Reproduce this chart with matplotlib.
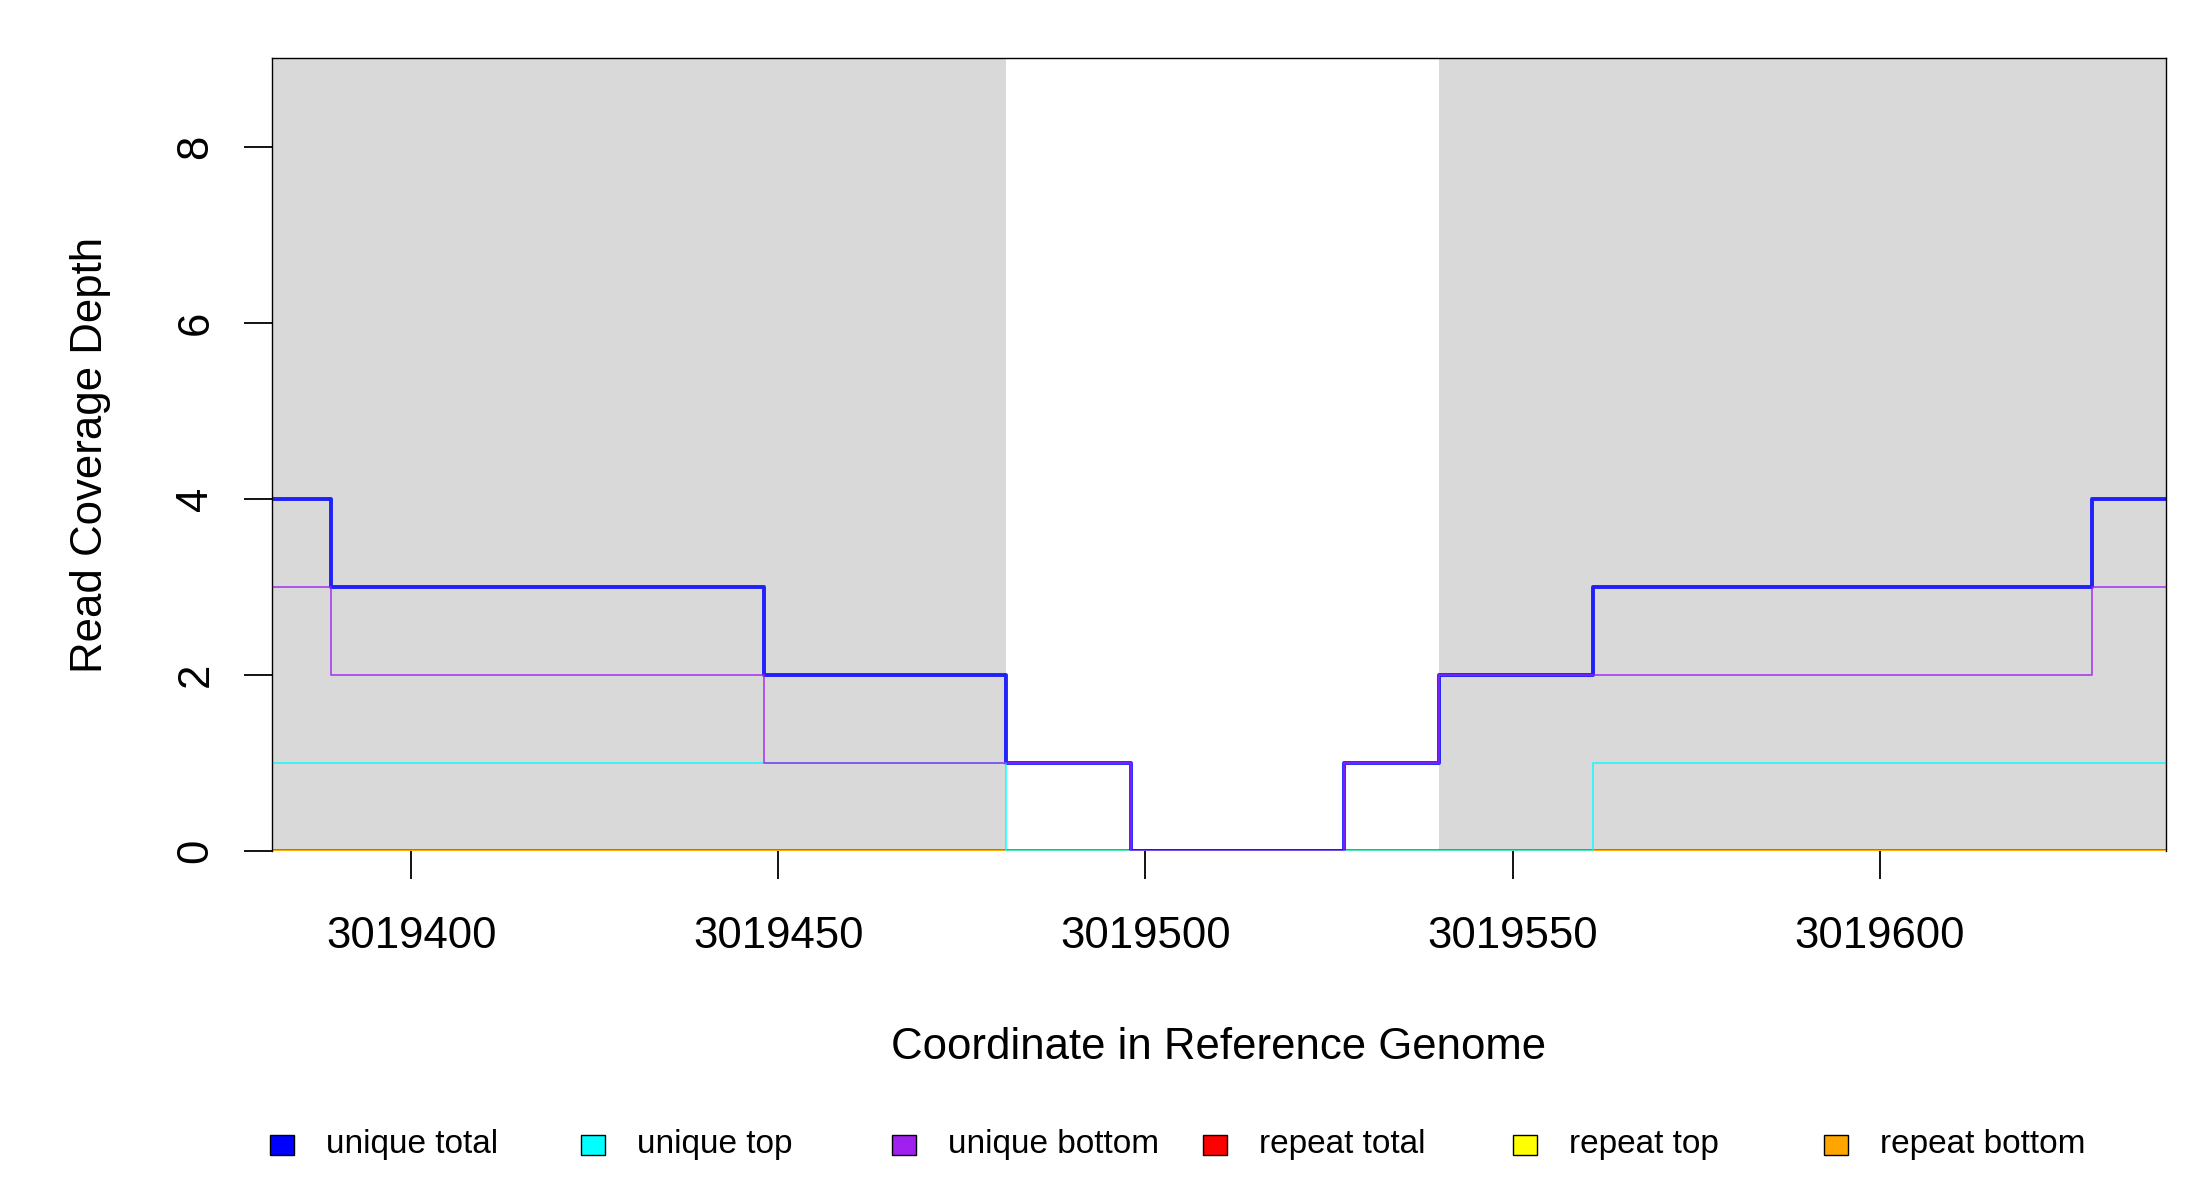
import matplotlib
matplotlib.use('Agg')
import matplotlib.pyplot as plt
from matplotlib.patches import Rectangle

plt.rcParams['font.family'] = ['Liberation Sans', 'DejaVu Sans']

# step positions (coordinate where each segment starts) and depth per segment
positions = [3019381, 3019389, 3019448, 3019481, 3019498, 3019527, 3019540, 3019561, 3019629, 3019639]
unique_total = [4, 3, 2, 1, 0, 1, 2, 3, 4, 4]
unique_top = [1, 1, 1, 0, 0, 0, 0, 1, 1, 1]
unique_bottom = [3, 2, 1, 1, 0, 1, 2, 2, 3, 3]
repeat_total = [0, 0, 0, 0, 0, 0, 0, 0, 0, 0]
repeat_top = [0, 0, 0, 0, 0, 0, 0, 0, 0, 0]
repeat_bottom = [0, 0, 0, 0, 0, 0, 0, 0, 0, 0]

# shaded (gray) intervals
shaded = [(3019381, 3019481), (3019540, 3019639)]

series_names = ['unique total', 'unique top', 'unique bottom',
                'repeat total', 'repeat top', 'repeat bottom']
series_colors = ['#0000FF', '#00FFFF', '#A020F0', '#FF0000', '#FFFF00', '#FFA500']
x_ticks = [3019400, 3019450, 3019500, 3019550, 3019600]
y_ticks = [0, 2, 4, 6, 8]

fig = plt.figure(figsize=(22, 12), dpi=100)
ax = fig.add_axes([0.1236, 0.2908, 0.8609, 0.6605])

for x0, x1 in shaded:
    ax.axvspan(x0, x1, color='#D9D9D9', lw=0, zorder=0)

series = [unique_total, unique_top, unique_bottom, repeat_total, repeat_top, repeat_bottom]
widths = [2.8, 1.2, 1.2, 2.8, 2.4, 2.4]
# repeat lines go underneath, unique lines on top
draw_order = [3, 4, 5, 0, 1, 2]
for i in draw_order:
    ax.step(positions, series[i], where='post', color=series_colors[i],
            lw=widths[i], alpha=0.85, zorder=2)

ax.set_xlim(3019381, 3019639)
ax.set_ylim(0, 9)
ax.set_xticks(x_ticks)
ax.set_xticklabels([str(t) for t in x_ticks])
ax.set_yticks(y_ticks)
ax.set_yticklabels([str(t) for t in y_ticks], rotation=90, va='center')
ax.tick_params(axis='both', labelsize=31.5, length=20, width=1.3, direction='out')
ax.tick_params(axis='x', pad=27)
ax.tick_params(axis='y', pad=20)

for sp in ax.spines.values():
    sp.set_linewidth(1.0)
    sp.set_color('black')
ax.spines['bottom'].set_visible(False)

ax.set_xlabel('Coordinate in Reference Genome', fontsize=31.5, labelpad=50)
ax.set_ylabel('Read Coverage Depth', fontsize=31.5, labelpad=46)

# legend row below the plot
legend_x = [282, 593, 904, 1215, 1525, 1836]
for lx, name, col in zip(legend_x, series_names, series_colors):
    fig.patches.append(Rectangle((lx - 12, 1200 - 1145 - 10), 24, 20,
                                 transform=None, facecolor=col,
                                 edgecolor='black', lw=1.0))
    fig.text((lx + 44) / 2200, 1 - 1145 / 1200, name, fontsize=24,
             ha='left', va='center')

fig.savefig('out.png', dpi=100, facecolor='white')
